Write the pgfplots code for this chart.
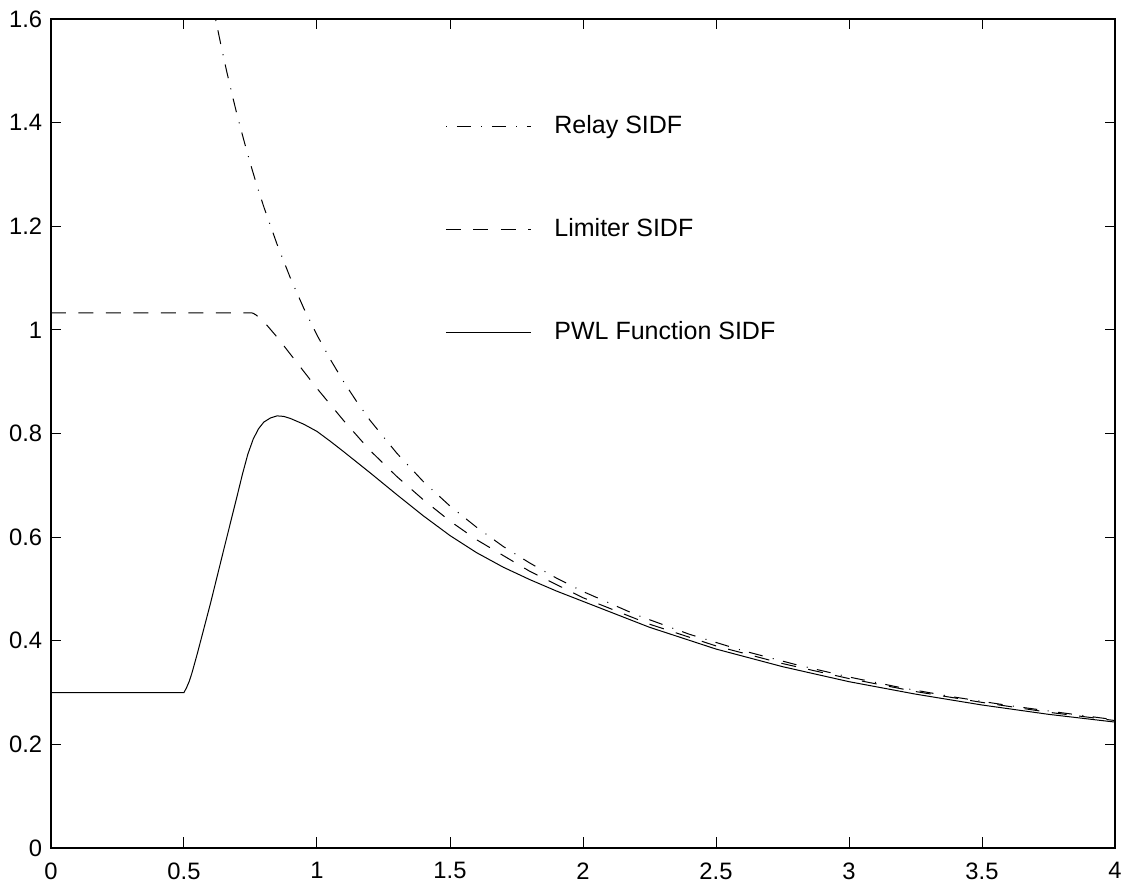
\documentclass[border=0pt]{standalone}
\usepackage{fontspec}
\setmainfont{Liberation Sans}
\usepackage{pgfplots}
\pgfplotsset{compat=1.18}
\begin{document}
\begin{tikzpicture}
\begin{axis}[
  scale only axis,
  width=425.6pt, height=331.6pt,
  xmin=0, xmax=4, ymin=0, ymax=1.6,
  xtick={0,0.5,1,1.5,2,2.5,3,3.5,4},
  ytick={0,0.2,0.4,0.6,0.8,1,1.2,1.4,1.6},
  xticklabels={0,0.5,1,1.5,2,2.5,3,3.5,4},
  yticklabels={0,0.2,0.4,0.6,0.8,1,1.2,1.4,1.6},
  tick align=inside,
  major tick length=4.2pt,
  axis line style={line width=0.6pt},
  every tick/.style={black, line width=0.4pt},
  tick label style={font=\fontsize{9.5}{11}\selectfont},
  xticklabel style={yshift=-2.3pt},
  legend style={draw=none, fill=none, at={(axis cs:1.481,1.425)}, anchor=north west,
    font=\fontsize{10}{12}\selectfont, row sep=28.5pt, inner sep=0pt},
  legend cell align=left,
  legend image code/.code={\draw[#1] (0pt,0pt) -- (34pt,0pt);},
  /tikz/every even column/.append style={column sep=0pt},
  legend style={nodes={inner xsep=9.2pt}},
]
\addplot[black, line width=0.4pt, dash pattern=on 5.6pt off 4.2pt on 0.4pt off 3.8pt, dash phase=9.6pt] coordinates {
(0.619,1.599) (0.64,1.547) (0.66,1.5) (0.68,1.456) (0.7,1.414) (0.725,1.366) (0.75,1.32) (0.775,1.277) (0.8,1.2375) (0.85,1.165) (0.9,1.1) (0.95,1.042) (1.0,0.99) (1.05,0.943) (1.1,0.9) (1.15,0.861) (1.2,0.825) (1.3,0.762) (1.4,0.707) (1.5,0.66) (1.6,0.619) (1.7,0.582) (1.8,0.55) (1.9,0.521) (2.0,0.495) (2.2,0.45) (2.4,0.4125) (2.6,0.381) (2.8,0.354) (3.0,0.33) (3.2,0.309) (3.4,0.291) (3.6,0.275) (3.8,0.261) (4.0,0.2475)
};
\addlegendentry{Relay SIDF}
\addplot[black, line width=0.4pt, dash pattern=on 6pt off 5pt] coordinates {
(0,1.033) (0.753,1.033) (0.76,1.032) (0.77,1.029) (0.78,1.025) (0.8,1.016) (0.85,0.986) (0.9,0.953) (0.95,0.920) (1.0,0.887) (1.1,0.825) (1.2,0.767) (1.3,0.717) (1.4,0.672) (1.5,0.631) (1.6,0.595) (1.8,0.534) (2.0,0.483) (2.25,0.432) (2.5,0.390) (2.75,0.356) (3.0,0.327) (3.25,0.302) (3.5,0.281) (3.75,0.262) (4.0,0.246)
};
\addlegendentry{Limiter SIDF}
\addplot[black, line width=0.4pt] coordinates {
(0,0.3) (0.5,0.3) (0.51,0.31) (0.52,0.322) (0.53,0.338) (0.55,0.375) (0.6,0.473) (0.65,0.577) (0.7,0.680) (0.72,0.722) (0.74,0.760) (0.76,0.789) (0.78,0.809) (0.8,0.822) (0.825,0.830) (0.85,0.834) (0.875,0.833) (0.9,0.829) (0.95,0.818) (1.0,0.804) (1.05,0.785) (1.1,0.765) (1.2,0.724) (1.3,0.682) (1.4,0.641) (1.5,0.603) (1.6,0.570) (1.7,0.542) (1.8,0.518) (1.9,0.496) (2.0,0.476) (2.25,0.426) (2.5,0.384) (2.75,0.350) (3.0,0.321) (3.25,0.297) (3.5,0.276) (3.75,0.258) (4.0,0.243)
};
\addlegendentry{PWL Function SIDF}
\end{axis}
\pgfresetboundingbox
\path ([xshift=-20.4pt,yshift=-14.4pt]current axis.south west) rectangle ([xshift=4pt,yshift=7.6pt]current axis.north east);
\end{tikzpicture}
\end{document}
